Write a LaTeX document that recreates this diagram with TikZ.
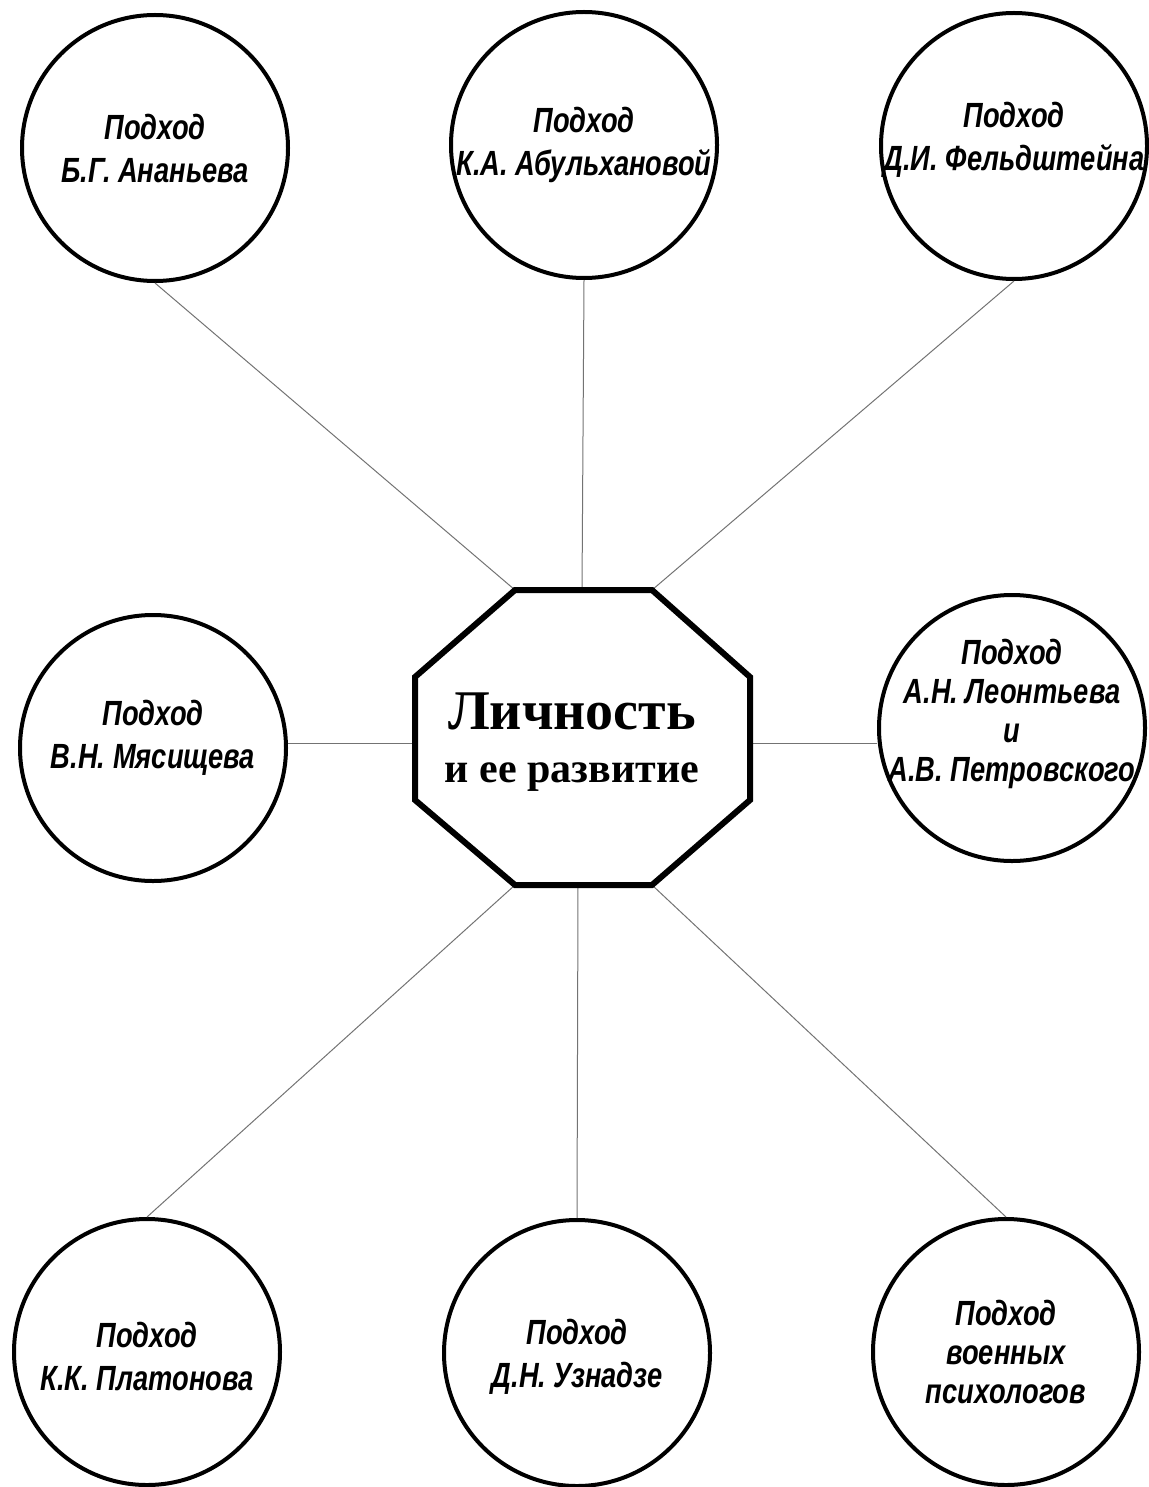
\documentclass[tikz,border=0pt]{standalone}
\usepackage{fontspec}
\setmainfont{Liberation Serif}
\newfontfamily\approachfont[FakeStretch=0.78]{Liberation Sans}
\usetikzlibrary{positioning}

\begin{document}
\begin{tikzpicture}[
        x=0.5pt, y=-0.5pt,
        approach/.style={circle, draw, line width=2pt, minimum size=133pt, inner sep=0pt},
        approachtext/.style={align=center, inner sep=0pt,
            font=\approachfont\bfseries\itshape\fontsize{17.5}{21.5}\selectfont},
        tighttext/.style={approachtext, font=\approachfont\bfseries\itshape\fontsize{17.5}{19.5}\selectfont},
        link/.style={draw=black!55, line width=0.5pt},
        octagon/.style={draw, line width=3pt, line join=miter}
        ]
        \useasboundingbox (0,0) rectangle (1149,1487);

        % octagon corners
        \coordinate (oct-nw) at (515,590);
        \coordinate (oct-ne) at (652,590);
        \coordinate (oct-en) at (750,677);
        \coordinate (oct-es) at (750,800);
        \coordinate (oct-se) at (652,885);
        \coordinate (oct-sw) at (515,885);
        \coordinate (oct-ws) at (415,800);
        \coordinate (oct-wn) at (415,677);
        \coordinate (oct-n) at (582,590);
        \coordinate (oct-s) at (578,885);
        \coordinate (oct-w) at (415,743);
        \coordinate (oct-e) at (750,743);

        % approaches
        \node[approach, label={[approachtext]center:Подход\\Б.Г. Ананьева}] (ananiev) at (155,148) {};
        \node[approach, label={[approachtext]center:Подход\\К.А. Абульхановой}] (abulkh) at (584,145) {};
        \node[approach, label={[approachtext, yshift=3pt]center:Подход\\Д.И. Фельдштейна}] (feld) at (1014,146) {};
        \node[approach, label={[approachtext, yshift=5pt]center:Подход\\В.Н. Мясищева}] (myas) at (153,748) {};
        \node[approach, label={[tighttext, yshift=7pt]center:Подход\\А.Н. Леонтьева\\и\\А.В. Петровского}] (leont) at (1012,728) {};
        \node[approach, label={[approachtext, yshift=-2pt]center:Подход\\К.К. Платонова}] (platon) at (147,1352) {};
        \node[approach, label={[approachtext, yshift=-2pt]center:Подход\\Д.Н. Узнадзе}] (uzn) at (577,1353) {};
        \node[approach, label={[tighttext]center:Подход\\военных\\психологов}] (mil) at (1006,1352) {};

        % links
        \draw[link] (ananiev.south) -- (oct-nw);
        \draw[link] (abulkh.south) -- (oct-n);
        \draw[link] (feld.south) -- (oct-ne);
        \draw[link] (myas.east |- oct-w) -- (oct-w);
        \draw[link] (leont.west |- oct-e) -- (oct-e);
        \draw[link] (platon.north) -- (oct-sw);
        \draw[link] (uzn.north) -- (oct-s);
        \draw[link] (mil.north) -- (oct-se);

        % centre
        \draw[octagon, fill=white] (oct-nw) -- (oct-ne) -- (oct-en) -- (oct-es)
            -- (oct-se) -- (oct-sw) -- (oct-ws) -- (oct-wn) -- cycle;
        \node[align=center, font=\fontsize{28}{26.5}\selectfont] (centre) at (572,742)
            {\bfseries Личность\\\fontsize{21}{26.5}\selectfont\bfseries и ее развитие};
    \end{tikzpicture}
\end{document}
